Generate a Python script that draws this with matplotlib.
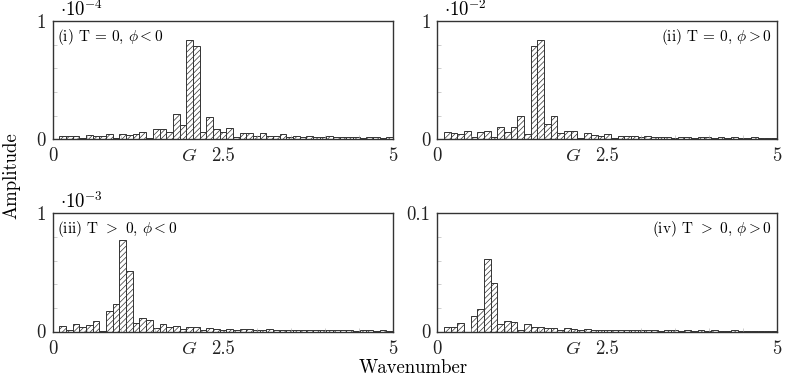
import numpy as np
import matplotlib
matplotlib.use('Agg')
import matplotlib.pyplot as plt

plt.rcParams['font.family'] = 'serif'
plt.rcParams['font.serif'] = ['cmr10', 'DejaVu Serif']
plt.rcParams['mathtext.fontset'] = 'cm'
plt.rcParams['axes.formatter.use_mathtext'] = True
plt.rcParams['hatch.linewidth'] = 0.5

# wavenumber grid: modes n = 1..50, spacing 2*pi/64
modes = np.arange(1, 51)
dk = 2 * np.pi / 64
G = 2.0

# amplitudes, in units of each panel's axis multiplier
amp_i = [.031, .025, .031, .010, .037, .025, .030, .040, .010, .045,
         .034, .042, .065, .014, .085, .085, .060, .210, .120, .840,
         .785, .065, .190, .085, .060, .093, .020, .055, .050, .030,
         .050, .030, .030, .040, .020, .030, .020, .025, .015, .020,
         .025, .015, .020, .015, .020, .010, .020, .015, .010, .020]
amp_ii = [.062, .050, .040, .070, .020, .062, .070, .020, .107, .065,
          .100, .200, .040, .785, .840, .130, .195, .056, .073, .073,
          .010, .056, .037, .030, .042, .010, .028, .028, .025, .020,
          .025, .015, .020, .022, .012, .020, .015, .012, .020, .015,
          .012, .015, .010, .015, .012, .010, .015, .010, .012, .010]
amp_iii = [.050, .015, .060, .037, .054, .090, .005, .175, .230, .770,
           .510, .070, .110, .096, .030, .065, .037, .045, .020, .035,
           .035, .010, .030, .020, .015, .025, .010, .020, .020, .015,
           .012, .020, .015, .010, .015, .012, .010, .015, .012, .010,
           .012, .010, .012, .010, .008, .010, .010, .008, .010, .008]
amp_iv = [.0042, .0037, .0076, .0000, .0130, .0190, .0610, .0410, .0062, .0090,
          .0080, .0012, .0062, .0040, .0042, .0030, .0030, .0012, .0028, .0020,
          .0015, .0020, .0012, .0015, .0015, .0010, .0012, .0015, .0010, .0012,
          .0010, .0012, .0008, .0010, .0012, .0008, .0010, .0008, .0010, .0008,
          .0010, .0008, .0008, .0010, .0006, .0008, .0008, .0006, .0008, .0006]

panels = [
    (amp_i, 1.0, r'$\cdot 10^{-4}$', '1', r'(i) T = 0, $\phi<0$', 'left'),
    (amp_ii, 1.0, r'$\cdot 10^{-2}$', '1', r'(ii) T = 0, $\phi>0$', 'right'),
    (amp_iii, 1.0, r'$\cdot 10^{-3}$', '1', r'(iii) T $>$ 0, $\phi<0$', 'left'),
    (amp_iv, 0.1, None, '0.1', r'(iv) T $>$ 0, $\phi>0$', 'right'),
]

W, H = 790, 381
fig = plt.figure(figsize=(7.9, 3.81), dpi=100)
lefts = [52.7, 437.3]
tops = [21.0, 213.3]
aw, ah = 340.0, 118.2

for idx, (amp, ymax, mult, toplab, label, side) in enumerate(panels):
    col, row = idx % 2, idx // 2
    ax = fig.add_axes([lefts[col] / W, 1 - (tops[row] + ah) / H, aw / W, ah / H])
    ax.bar(modes * dk, amp, width=dk, align='edge', facecolor='white',
           edgecolor='#333333', linewidth=0.7, hatch='//////')
    ax.set_xlim(0, 5)
    ax.set_ylim(0, ymax)
    ax.set_xticks([0, G, 2.5, 5])
    ax.set_xticklabels(['0', '$G$', '2.5', '5'])
    ax.set_xticks(np.arange(0.5, 5, 0.5), minor=True)
    ax.set_yticks([0, ymax])
    ax.set_yticklabels(['0', toplab])
    ax.set_yticks(np.arange(1, 5) * ymax / 5, minor=True)
    ax.tick_params(which='both', direction='in', labelsize=13.5, colors='#222222',
                   width=0.4)
    ax.tick_params(which='major', length=0, pad=6)
    ax.tick_params(axis='y', which='major', pad=5)
    ax.tick_params(which='minor', length=3, color='#aaaaaa')
    for s in ax.spines.values():
        s.set_linewidth(1.0)
        s.set_color('#333333')
    if mult:
        ax.text(0.02, 1.01, mult, transform=ax.transAxes, ha='left',
                va='bottom', fontsize=13.5)
    if side == 'left':
        ax.text(0.012, 0.95, label, transform=ax.transAxes, ha='left',
                va='top', fontsize=11)
    else:
        ax.text(0.985, 0.95, label, transform=ax.transAxes, ha='right',
                va='top', fontsize=11)

fig.text(11 / W, 1 - 176 / H, 'Amplitude', rotation=90, ha='center',
         va='center', fontsize=13.5)
fig.text(413 / W, 1 - 368 / H, 'Wavenumber', ha='center', va='center',
         fontsize=13.5)

fig.savefig('out.png', dpi=100)
